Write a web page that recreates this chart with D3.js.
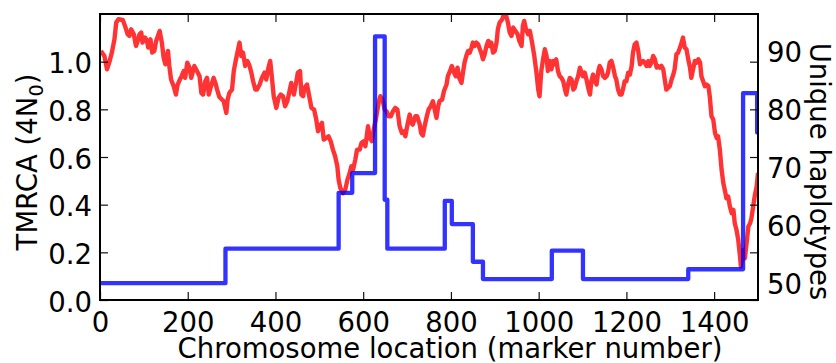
<!DOCTYPE html>
<html><head><meta charset="utf-8">
<script src="https://cdn.jsdelivr.net/npm/d3@7/dist/d3.min.js"></script>
<style>html,body{margin:0;padding:0;background:#fff;}svg{display:block;font-family:"DejaVu Sans",sans-serif;}</style>
</head><body><svg id="c" width="836" height="363"></svg>
<script>
// TMRCA trace (marker number, TMRCA in 4N0 units)
const tmrcaPos = [2,10,16,21,27,33,37,42,52,57,63,67,71,77,82,86,90,94,97,103,107,110,115,119,124,128,132,136,141,145,149,155,158,162,168,173,177,182,186,191,194,199,204,208,212,215,221,227,231,235,240,244,248,253,259,263,267,272,278,282,288,291,295,301,305,310,314,318,322,326,331,336,341,345,349,354,358,364,369,375,379,384,388,392,396,402,407,412,417,422,427,432,436,442,447,451,456,459,463,466,472,477,482,488,493,497,501,506,510,516,521,526,531,536,541,544,548,554,559,564,569,573,577,582,586,592,596,601,605,611,615,620,624,630,635,639,644,649,653,658,663,668,673,678,683,688,693,696,701,706,710,713,719,723,729,732,736,740,745,749,754,759,763,767,771,774,780,784,790,793,798,802,807,811,815,819,824,828,831,835,839,843,847,850,854,858,862,866,869,873,877,881,885,888,892,896,900,904,907,911,917,921,926,930,934,938,942,947,952,956,961,964,967,971,976,980,985,990,995,999,1002,1006,1010,1014,1018,1021,1025,1029,1033,1037,1040,1044,1048,1052,1056,1060,1063,1067,1071,1075,1079,1082,1086,1090,1094,1098,1101,1105,1109,1113,1117,1120,1124,1128,1132,1136,1139,1143,1147,1151,1155,1158,1162,1166,1170,1174,1177,1181,1185,1189,1193,1196,1200,1204,1208,1212,1215,1219,1223,1227,1231,1234,1238,1242,1246,1250,1253,1257,1261,1265,1269,1272,1276,1280,1284,1288,1291,1295,1299,1303,1307,1310,1314,1318,1322,1326,1329,1333,1337,1341,1345,1348,1352,1356,1360,1364,1368,1371,1375,1379,1383,1387,1390,1394,1398,1402,1406,1409,1413,1417,1421,1425,1428,1432,1436,1440,1444,1447,1451,1455,1459,1461,1464,1467,1470,1474,1478,1482,1485,1489,1493,1497,1500];
const tmrcaVal = [1.045,1.024,0.968,0.996,1.038,1.094,1.164,1.178,1.175,1.150,1.115,1.108,1.136,1.115,1.066,1.087,1.115,1.122,1.080,1.101,1.087,1.059,1.094,1.038,1.045,1.087,1.108,1.129,1.080,1.017,0.989,1.045,0.982,0.925,0.897,0.862,0.904,0.925,0.939,0.961,0.932,0.996,0.975,0.932,0.961,0.982,0.961,0.939,0.869,0.862,0.918,0.932,0.862,0.897,0.932,0.911,0.883,0.852,0.841,0.834,0.785,0.841,0.869,0.883,0.961,1.010,1.045,1.080,1.024,1.038,0.982,1.003,0.982,0.954,0.918,0.883,0.883,0.904,0.932,0.954,0.925,0.975,1.003,0.932,0.855,0.806,0.848,0.862,0.855,0.813,0.834,0.876,0.911,0.862,0.911,0.954,0.961,0.862,0.855,0.890,0.904,0.855,0.806,0.799,0.757,0.708,0.729,0.743,0.673,0.680,0.687,0.666,0.631,0.603,0.561,0.504,0.469,0.448,0.462,0.504,0.532,0.561,0.547,0.589,0.631,0.631,0.659,0.666,0.645,0.729,0.680,0.666,0.715,0.771,0.827,0.855,0.841,0.799,0.792,0.771,0.771,0.792,0.806,0.799,0.729,0.701,0.708,0.687,0.736,0.778,0.743,0.736,0.771,0.771,0.736,0.701,0.690,0.729,0.771,0.799,0.813,0.834,0.799,0.764,0.813,0.834,0.841,0.876,0.904,0.939,0.961,0.982,0.954,0.939,0.975,0.932,0.911,0.961,0.996,1.024,1.045,1.038,1.059,1.080,1.066,1.080,1.073,1.052,1.038,1.010,1.031,1.066,1.087,1.066,1.080,1.038,1.045,1.080,1.136,1.164,1.178,1.199,1.192,1.164,1.122,1.108,1.143,1.129,1.115,1.087,1.066,1.150,1.171,1.136,1.115,1.129,1.080,1.024,0.954,0.883,0.855,0.961,1.010,1.052,1.024,0.961,1.003,0.968,1.003,0.989,1.010,0.961,0.939,0.932,0.918,0.883,0.862,0.904,0.932,0.925,0.883,0.890,0.918,0.939,0.975,0.954,0.939,0.954,0.925,0.890,0.862,0.918,0.946,0.918,0.904,0.961,0.982,0.968,0.939,0.932,0.939,0.954,0.996,1.003,0.975,0.939,0.925,0.883,0.862,0.862,0.890,0.918,0.918,0.954,0.946,0.982,1.038,1.073,1.080,1.045,0.989,0.996,1.003,0.996,0.982,1.003,0.982,0.996,1.024,1.010,0.975,0.982,0.975,0.982,0.968,0.918,0.883,0.890,0.897,0.925,0.946,0.968,1.031,1.038,1.059,1.080,1.101,1.059,1.052,1.010,0.975,0.932,0.968,1.003,0.996,1.010,0.996,0.939,0.918,0.897,0.904,0.897,0.855,0.771,0.757,0.701,0.680,0.687,0.631,0.547,0.490,0.455,0.427,0.434,0.392,0.364,0.378,0.322,0.294,0.252,0.182,0.140,0.182,0.210,0.175,0.238,0.308,0.322,0.343,0.392,0.441,0.476,0.533];
// Unique haplotypes (step function: value holds from each start position)
const haploPos = [0,286,544,575,627,649,655,786,802,850,873,1030,1101,1341,1466,1498,1500];
const haploVal = [49.8,55.75,65.4,68.8,92.4,64.2,55.75,64.0,60.0,53.5,50.5,55.4,50.5,52.2,82.6,75.8,75.8];
// Tick labels
const xTicks = [0,200,400,600,800,1000,1200,1400];
const yLeftTicks = [0.0,0.2,0.4,0.6,0.8,1.0];
const yRightTicks = [50,60,70,80,90];
const xLabel = "Chromosome location (marker number)";
const yRightLabel = "Unique haplotypes";

const svg = d3.select("#c");
const L = 100, R = 758, T = 14, B = 300;
const FS = 27.5;
const x = d3.scaleLinear().domain([0,1500]).range([L,R]);
const y = d3.scaleLinear().domain([0,1.2]).range([B,T]);
const y2 = d3.scaleLinear().domain([50,90]).range([282,50.3]);

svg.append("rect").attr("width",836).attr("height",363).attr("fill","#fff");
svg.append("clipPath").attr("id","clip").append("rect")
  .attr("x",L).attr("y",T).attr("width",R-L).attr("height",B-T);

const red = tmrcaPos.map((p,i)=>[p,tmrcaVal[i]]);
const blue = haploPos.map((p,i)=>[p,haploVal[i]]);

svg.append("path").attr("clip-path","url(#clip)")
  .attr("d", d3.line().x(d=>x(d[0])).y(d=>y(d[1]))(red))
  .attr("fill","none").attr("stroke","#ff0000").attr("stroke-opacity",0.8)
  .attr("stroke-width",4.4).attr("stroke-linejoin","round");
svg.append("path").attr("clip-path","url(#clip)")
  .attr("d", d3.line().curve(d3.curveStepAfter).x(d=>x(d[0])).y(d=>y2(d[1]))(blue))
  .attr("fill","none").attr("stroke","#0000ff").attr("stroke-opacity",0.8)
  .attr("stroke-width",4.3).attr("stroke-linejoin","round");

function style(g){
  g.select(".domain").remove();
  g.selectAll(".tick line").attr("stroke","#111").attr("stroke-width",1.2);
  g.selectAll("text").attr("font-size",FS).attr("font-family","DejaVu Sans").attr("fill","#000");
}
svg.append("g").attr("transform",`translate(${L},0)`)
  .call(d3.axisLeft(y).tickValues(yLeftTicks).tickFormat(d3.format(".1f")).tickSize(-8).tickPadding(8))
  .call(style).call(g=>g.selectAll("text").attr("dy","0.40em"));
svg.append("g").attr("transform",`translate(${R},0)`)
  .call(d3.axisRight(y).tickValues(yLeftTicks).tickFormat("").tickSize(-8)).call(style);
svg.append("g").attr("transform",`translate(${R},0)`)
  .call(d3.axisRight(y2).tickValues(yRightTicks).tickFormat(d3.format("d")).tickSize(0).tickPadding(9))
  .call(style).call(g=>{g.selectAll("text").attr("dy","0.40em");g.selectAll(".tick line").remove();});
svg.append("g").attr("transform",`translate(0,${B})`)
  .call(d3.axisBottom(x).tickValues(xTicks).tickFormat(d3.format("d")).tickSize(-8).tickPadding(12)).call(style);
svg.append("g").attr("transform",`translate(0,${T})`)
  .call(d3.axisTop(x).tickValues(xTicks).tickFormat("").tickSize(-8)).call(style);

svg.append("rect").attr("x",L).attr("y",T).attr("width",R-L).attr("height",B-T)
  .attr("fill","none").attr("stroke","#000").attr("stroke-width",2);

svg.append("text").attr("x",450).attr("y",357.5).attr("text-anchor","middle")
  .attr("font-size",FS).text(xLabel);
const yl = svg.append("text").attr("transform","translate(37,162) rotate(-90)")
  .attr("text-anchor","middle").attr("font-size",FS);
yl.append("tspan").text("TMRCA (4N");
yl.append("tspan").attr("font-size",FS*0.7).attr("dy",FS*0.2).text("0");
yl.append("tspan").attr("dy",-FS*0.2).text(")");
svg.append("text").attr("transform","translate(810,171.5) rotate(90)")
  .attr("text-anchor","middle").attr("font-size",FS).text(yRightLabel);
</script></body></html>
